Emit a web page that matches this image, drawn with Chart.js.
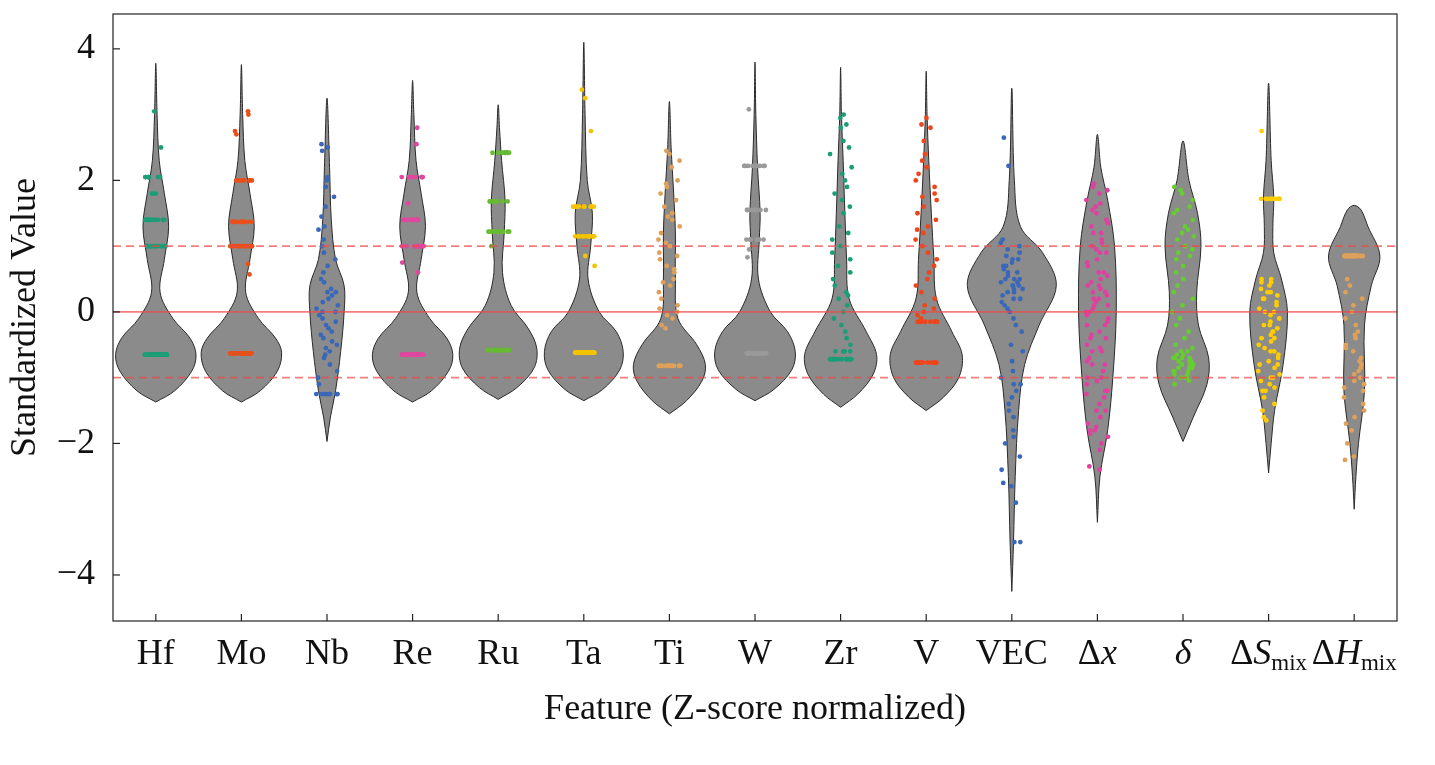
<!DOCTYPE html>
<html>
<head>
<meta charset="utf-8">
<script src="https://cdn.jsdelivr.net/npm/chart.js@4.4.1/dist/chart.umd.min.js"></script>
<style>
  html, body { margin: 0; padding: 0; background: #fff; }
  #wrap { width: 1435px; height: 765px; }
</style>
</head>
<body>
<div id="wrap"><canvas id="myChart"></canvas></div>
<script>
// ---- data ----
const features = ['Hf', 'Mo', 'Nb', 'Re', 'Ru', 'Ta', 'Ti', 'W', 'Zr', 'V', 'VEC', 'Δx', 'δ', 'ΔSmix', 'ΔHmix'];
// label pieces: [text, style] where style: n normal, i italic, s subscript
const tickLabels = [
    [['Hf', 'n']], [['Mo', 'n']], [['Nb', 'n']], [['Re', 'n']], [['Ru', 'n']],
    [['Ta', 'n']], [['Ti', 'n']], [['W', 'n']], [['Zr', 'n']], [['V', 'n']],
    [['VEC', 'n']], [['Δ', 'n'], ['x', 'i']], [['δ', 'i']],
    [['Δ', 'n'], ['S', 'i'], ['mix', 's']], [['Δ', 'n'], ['H', 'i'], ['mix', 's']]
];
const yTicks = [-4, -2, 0, 2, 4];
const pointColors = ['#1b9e77', '#e8501a', '#3a68b8', '#e0479e', '#66bb33', '#f5c400', '#dfa15a', '#9a9a9a',
    '#1b9e77', '#f0441a', '#3a68b8', '#e040a0', '#66cc33', '#ffcc00', '#dfa15a'];

// violin outlines: [y, half width in category units]
const violinHf = [[-1.37, 0], [-1.2, 0.22], [-0.9, 0.42], [-0.65, 0.47], [-0.4, 0.4], [-0.1, 0.2], [0.3, 0.05], [0.8, 0.1], [1.3, 0.15], [1.8, 0.1], [2.3, 0.04], [3.0, 0.015], [3.78, 0]];
const violinMo = [[-1.37, 0], [-1.2, 0.22], [-0.9, 0.42], [-0.62, 0.47], [-0.4, 0.4], [-0.1, 0.2], [0.3, 0.05], [0.8, 0.1], [1.3, 0.15], [1.8, 0.1], [2.3, 0.04], [3.0, 0.015], [3.76, 0]];
const violinNb = [[-1.97, 0], [-1.6, 0.04], [-1.2, 0.1], [-0.6, 0.16], [0, 0.2], [0.4, 0.2], [0.8, 0.1], [1.4, 0.05], [2.2, 0.03], [3.25, 0]];
const violinRe = [[-1.37, 0], [-1.2, 0.22], [-0.9, 0.42], [-0.65, 0.47], [-0.4, 0.4], [-0.1, 0.2], [0.3, 0.05], [0.8, 0.1], [1.3, 0.15], [1.8, 0.1], [2.3, 0.04], [3.0, 0.015], [3.52, 0]];
const violinRu = [[-1.33, 0], [-1.15, 0.22], [-0.85, 0.42], [-0.55, 0.45], [-0.25, 0.35], [0.1, 0.15], [0.6, 0.05], [1.2, 0.07], [1.7, 0.08], [2.3, 0.04], [2.8, 0.015], [3.15, 0]];
const violinTa = [[-1.35, 0], [-1.18, 0.22], [-0.88, 0.42], [-0.6, 0.46], [-0.3, 0.38], [0.0, 0.18], [0.5, 0.05], [1.0, 0.08], [1.5, 0.1], [2.0, 0.04], [3.0, 0.015], [4.1, 0]];
const violinTi = [[-1.55, 0], [-1.35, 0.2], [-1.05, 0.38], [-0.8, 0.42], [-0.5, 0.32], [-0.1, 0.1], [0.5, 0.07], [1.2, 0.07], [1.8, 0.05], [2.5, 0.02], [3.2, 0]];
const violinW = [[-1.35, 0], [-1.18, 0.22], [-0.88, 0.43], [-0.6, 0.47], [-0.3, 0.38], [0.0, 0.18], [0.5, 0.04], [1.1, 0.05], [1.5, 0.06], [2.2, 0.03], [3.0, 0.01], [3.8, 0]];
const violinZr = [[-1.45, 0], [-1.25, 0.2], [-0.95, 0.38], [-0.65, 0.42], [-0.3, 0.3], [0.2, 0.1], [0.8, 0.07], [1.5, 0.05], [2.3, 0.03], [3.0, 0.01], [3.72, 0]];
const violinV = [[-1.5, 0], [-1.3, 0.2], [-1.0, 0.38], [-0.65, 0.42], [-0.3, 0.3], [0.2, 0.12], [0.8, 0.09], [1.5, 0.06], [2.3, 0.03], [3.0, 0.01], [3.66, 0]];
const violinVEC = [[-4.25, 0], [-3.5, 0.02], [-2.5, 0.04], [-1.5, 0.08], [-0.8, 0.15], [-0.2, 0.32], [0.4, 0.52], [0.9, 0.36], [1.3, 0.1], [2.0, 0.03], [3.4, 0]];
const violinDx = [[-3.2, 0], [-2.5, 0.03], [-1.8, 0.12], [-1.0, 0.18], [0.0, 0.22], [1.0, 0.2], [1.7, 0.12], [2.2, 0.04], [2.7, 0]];
const violinDelta = [[-1.97, 0], [-1.6, 0.12], [-1.1, 0.28], [-0.7, 0.3], [-0.2, 0.18], [0.3, 0.16], [1.0, 0.21], [1.5, 0.17], [2.0, 0.07], [2.6, 0]];
const violinDS = [[-2.45, 0], [-2.0, 0.03], [-1.5, 0.07], [-0.8, 0.17], [0.0, 0.22], [0.5, 0.15], [0.9, 0.06], [1.3, 0.05], [1.75, 0.06], [2.3, 0.03], [3.48, 0]];
const violinDH = [[-3.0, 0], [-2.5, 0.02], [-2.0, 0.05], [-1.2, 0.12], [-0.2, 0.12], [0.4, 0.2], [0.85, 0.3], [1.3, 0.16], [1.55, 0.08], [1.62, 0]];
const violins = [violinHf, violinMo, violinNb, violinRe, violinRu, violinTa, violinTi, violinW, violinZr, violinV, violinVEC, violinDx, violinDelta, violinDS, violinDH];

function rep(v, n) { return Array(n).fill(v); }

// strip points
const ptsHf = [].concat(rep(-0.65, 40), rep(1.0, 14), rep(1.4, 14), rep(1.8, 3), rep(2.05, 8), [2.5, 3.05]);
const ptsMo = [].concat(rep(-0.63, 40), [0.57, 0.73], rep(1.0, 14), rep(1.37, 14), rep(2.0, 8), [2.7, 2.75, 3.0, 3.05]);
const ptsNb = [].concat(rep(-1.25, 8), [2.55, 2.5, 2.45, 2.05, 2.0, 1.9, 1.75, 1.6, 1.45, 1.3, 1.25, 1.1, 1.0, 0.9, 0.8, 0.7, 0.6, 0.5, 0.45, 0.35, 0.3, 0.3, 0.25, 0.2, 0.15, 0.1, 0.05, 0, 0, -0.05, -0.1, -0.15, -0.2, -0.25, -0.3, -0.35, -0.4, -0.45, -0.5, -0.55, -0.6, -0.65, -0.7, -0.8, -0.9, -1.0, -1.1]);
const ptsRe = [].concat(rep(-0.65, 40), [0.6, 0.75], rep(1.0, 12), rep(1.4, 12), [1.65], rep(2.05, 8), [2.55, 2.8]);
const ptsRu = [].concat(rep(-0.58, 40), [1.0], rep(1.22, 12), rep(1.68, 10), rep(2.42, 10));
const ptsTa = [].concat(rep(-0.62, 40), [0.7, 0.85], rep(1.15, 12), rep(1.6, 10), [2.75, 3.25, 3.38]);
const ptsTi = [].concat(rep(-0.82, 20), [2.45, 2.4, 2.3, 2.2, 2.0, 1.95, 1.9, 1.8, 1.7, 1.6, 1.5, 1.45, 1.4, 1.3, 1.2, 1.1, 1.05, 1.0, 0.9, 0.85, 0.8, 0.7, 0.65, 0.6, 0.5, 0.45, 0.4, 0.3, 0.2, 0.1, 0.05, 0, -0.05, -0.1, -0.2, -0.25]);
const ptsW = [].concat(rep(-0.63, 40), [0.83, 0.95], rep(1.1, 8), rep(1.55, 8), rep(2.22, 10), [3.08]);
const ptsZr = [].concat(rep(-0.72, 15), rep(-0.6, 5), [3.0, 2.95, 2.85, 2.8, 2.6, 2.5, 2.4, 2.2, 2.1, 2.0, 1.9, 1.8, 1.7, 1.6, 1.5, 1.3, 1.2, 1.1, 1.0, 0.9, 0.8, 0.7, 0.6, 0.5, 0.4, 0.3, 0.25, 0.2, 0.1, 0, -0.1, -0.2, -0.3, -0.4, -0.5]);
const ptsV = [].concat(rep(-0.77, 15), rep(-0.15, 8), [2.95, 2.85, 2.8, 2.6, 2.4, 2.3, 2.2, 2.1, 2.0, 1.9, 1.8, 1.75, 1.7, 1.6, 1.5, 1.4, 1.3, 1.25, 1.2, 1.1, 1.0, 0.9, 0.8, 0.7, 0.6, 0.5, 0.4, 0.3, 0.2, 0.1, 0.05, 0, -0.05, -0.1]);
const ptsVEC = [2.65, 2.22, 1.1, 1.05, 1.0, 0.95, 0.9, 0.85, 0.8, 0.8, 0.75, 0.7, 0.7, 0.65, 0.6, 0.6, 0.55, 0.5, 0.5, 0.5, 0.45, 0.45, 0.4, 0.4, 0.4, 0.35, 0.35, 0.3, 0.3, 0.25, 0.2, 0.2, 0.15, 0.1, 0.05, 0, -0.1, -0.2, -0.3, -0.5, -0.6, -0.75, -0.9, -1.0, -1.1, -1.1, -1.2, -1.3, -1.4, -1.5, -1.6, -1.8, -1.9, -2.0, -2.2, -2.4, -2.6, -2.65, -2.9, -3.5, -3.5];
const ptsDx = [1.95, 1.9, 1.85, 1.8, 1.7, 1.65, 1.6, 1.55, 1.5, 1.4, 1.35, 1.3, 1.2, 1.1, 1.05, 1.0, 0.95, 0.9, 0.8, 0.75, 0.7, 0.6, 0.55, 0.5, 0.45, 0.4, 0.35, 0.3, 0.25, 0.2, 0.15, 0.1, 0.05, 0, -0.05, -0.1, -0.15, -0.2, -0.3, -0.35, -0.4, -0.5, -0.55, -0.6, -0.7, -0.75, -0.8, -0.9, -1.0, -1.05, -1.1, -1.2, -1.25, -1.3, -1.4, -1.5, -1.6, -1.7, -1.75, -1.8, -1.85, -1.9, -2.0, -2.1, -2.35, -2.4, 1.2, 0.9, 0.6, 0.4, 0.3, 0.2, 0.1, 0, -0.2, -0.4, -0.6, -0.8, -1.0, -1.2, -1.5, -1.8];
const ptsDelta = [-1.1, -1.05, -1.0, -1.0, -0.95, -0.95, -0.9, -0.9, -0.85, -0.85, -0.8, -0.8, -0.8, -0.75, -0.75, -0.7, -0.7, -0.7, -0.65, -0.65, -0.6, -0.6, -0.55, -0.5, -0.9, -0.85, -0.8, -0.75, -1.0, -0.7, 1.9, 1.85, 1.8, 1.7, 1.6, 1.55, 1.5, 1.4, 1.3, 1.25, 1.2, 1.15, 1.1, 1.0, 0.95, 0.9, 0.85, 0.8, 0.7, 0.6, 0.5, 0.4, 0.3, 0.2, 0.1, 0, -0.1, -0.2, -0.3, -0.4];
const ptsDS = [].concat(rep(1.72, 10), [2.75, 0.5, 0.5, 0.45, 0.4, 0.35, 0.3, 0.25, 0.2, 0.15, 0.1, 0.05, 0, -0.05, -0.1, -0.15, -0.2, -0.25, -0.3, -0.35, -0.4, -0.45, -0.5, -0.55, -0.6, -0.65, -0.7, -0.75, -0.8, -0.85, -0.9, -0.95, -1.0, -1.05, -1.1, -1.15, -1.2, -1.3, -1.4, -1.5, -1.6, -1.65, 0.3, 0.2, 0.0, -0.2, -0.4, -0.6, -0.8, -1.0, -1.2, 0.45, -0.3]);
const ptsDH = [].concat(rep(0.85, 25), [0.5, 0.4, 0.3, 0.2, 0.1, 0, -0.1, -0.2, -0.3, -0.4, -0.5, -0.6, -0.7, -0.8, -0.85, -0.9, -1.0, -1.05, -1.1, -1.2, -1.3, -1.4, -1.5, -1.6, -1.7, -1.8, -2.0, -2.2, -2.25, -0.75, -0.95, -1.15, -0.35, -0.55]);
const points = [ptsHf, ptsMo, ptsNb, ptsRe, ptsRu, ptsTa, ptsTi, ptsW, ptsZr, ptsV, ptsVEC, ptsDx, ptsDelta, ptsDS, ptsDH];

const refLines = [0, 1, -1];

// fixed pseudo-jitter in [-0.5, 0.5), depends only on the point index
function jitter(k) {
    const s = Math.sin((k + 1) * 12.9898) * 43758.5453;
    return s - Math.floor(s) - 0.5;
}

// ---- datasets ----
const datasets = [];
violins.forEach(function (prof, i) {
    const right = prof.map(p => ({ x: i + p[1], y: p[0] }));
    const left = prof.slice().reverse().map(p => ({ x: i - p[1], y: p[0] }));
    datasets.push({
        type: 'line', data: right.concat(left.slice(1)), fill: 'shape',
        backgroundColor: '#8b8b8b', borderColor: '#2a2a2a', borderWidth: 1,
        pointRadius: 0, tension: 0.35, order: 3
    });
});
points.forEach(function (vals, i) {
    datasets.push({
        type: 'scatter',
        data: vals.map((v, k) => ({ x: i + jitter(k + i * 131) * 0.26, y: v })),
        backgroundColor: pointColors[i], borderWidth: 0, pointRadius: 2.4, order: 2
    });
});
refLines.forEach(function (v) {
    datasets.push({
        type: 'line', data: [{ x: -0.5, y: v }, { x: 14.5, y: v }],
        borderColor: 'rgba(240, 70, 70, 0.7)', borderWidth: 1.6, borderDash: v === 0 ? [] : [8, 5],
        pointRadius: 0, fill: false, order: 1
    });
});

const frame = {
    id: 'frame',
    afterDraw(chart) {
        const c = chart.ctx, a = chart.chartArea;
        const xs = chart.scales.x, ys = chart.scales.y;
        c.save();
        c.strokeStyle = '#222'; c.lineWidth = 1.2;
        c.strokeRect(a.left, a.top, a.right - a.left, a.bottom - a.top);
        c.fillStyle = '#111';
        c.font = '36px "Liberation Serif"';
        c.textAlign = 'right'; c.textBaseline = 'middle';
        yTicks.forEach(function (v) {
            const y = ys.getPixelForValue(v);
            c.beginPath(); c.moveTo(a.left, y); c.lineTo(a.left + 7, y); c.stroke();
            c.fillText(String(v).replace('-', '\u2212'), a.left - 18, y);
        });
        c.textAlign = 'left'; c.textBaseline = 'alphabetic';
        tickLabels.forEach(function (parts, i) {
            const x = xs.getPixelForValue(i);
            c.beginPath(); c.moveTo(x, a.bottom); c.lineTo(x, a.bottom - 7); c.stroke();
            const fonts = parts.map(p => p[1] === 's' ? '23px "Liberation Serif"' : (p[1] === 'i' ? 'italic 36px "Liberation Serif"' : '36px "Liberation Serif"'));
            let w = 0;
            parts.forEach(function (p, k) { c.font = fonts[k]; w += c.measureText(p[0]).width; });
            let cx = x - w / 2;
            parts.forEach(function (p, k) {
                c.font = fonts[k];
                c.fillText(p[0], cx, 664 + (p[1] === 's' ? 6 : 0));
                cx += c.measureText(p[0]).width;
            });
        });
        c.restore();
    }
};

new Chart(document.getElementById('myChart'), {
    type: 'scatter',
    data: { datasets: datasets },
    options: {
        responsive: true, maintainAspectRatio: false, animation: false,
        layout: { padding: { top: 14, right: 38, left: 4, bottom: 0 } },
        plugins: { legend: { display: false }, tooltip: { enabled: false } },
        scales: {
            x: {
                type: 'linear', min: -0.5, max: 14.5,
                grid: { display: false }, border: { display: false },
                ticks: { display: false },
                afterFit(s) { s.height = 144; },
                title: { display: true, text: 'Feature (Z-score normalized)', color: '#111',
                    font: { family: 'Liberation Serif', size: 36 }, padding: { top: 0, bottom: 34 } }
            },
            y: {
                min: -4.7, max: 4.53,
                afterBuildTicks(s) { s.ticks = yTicks.map(v => ({ value: v })); },
                grid: { display: false, drawTicks: false }, border: { display: false },
                ticks: { display: false },
                afterFit(s) { s.width = 109; },
                title: { display: true, text: 'Standardized Value', color: '#111',
                    font: { family: 'Liberation Serif', size: 36 }, padding: { top: 0, bottom: 2 } }
            }
        }
    },
    plugins: [frame]
});
</script>
</body>
</html>
